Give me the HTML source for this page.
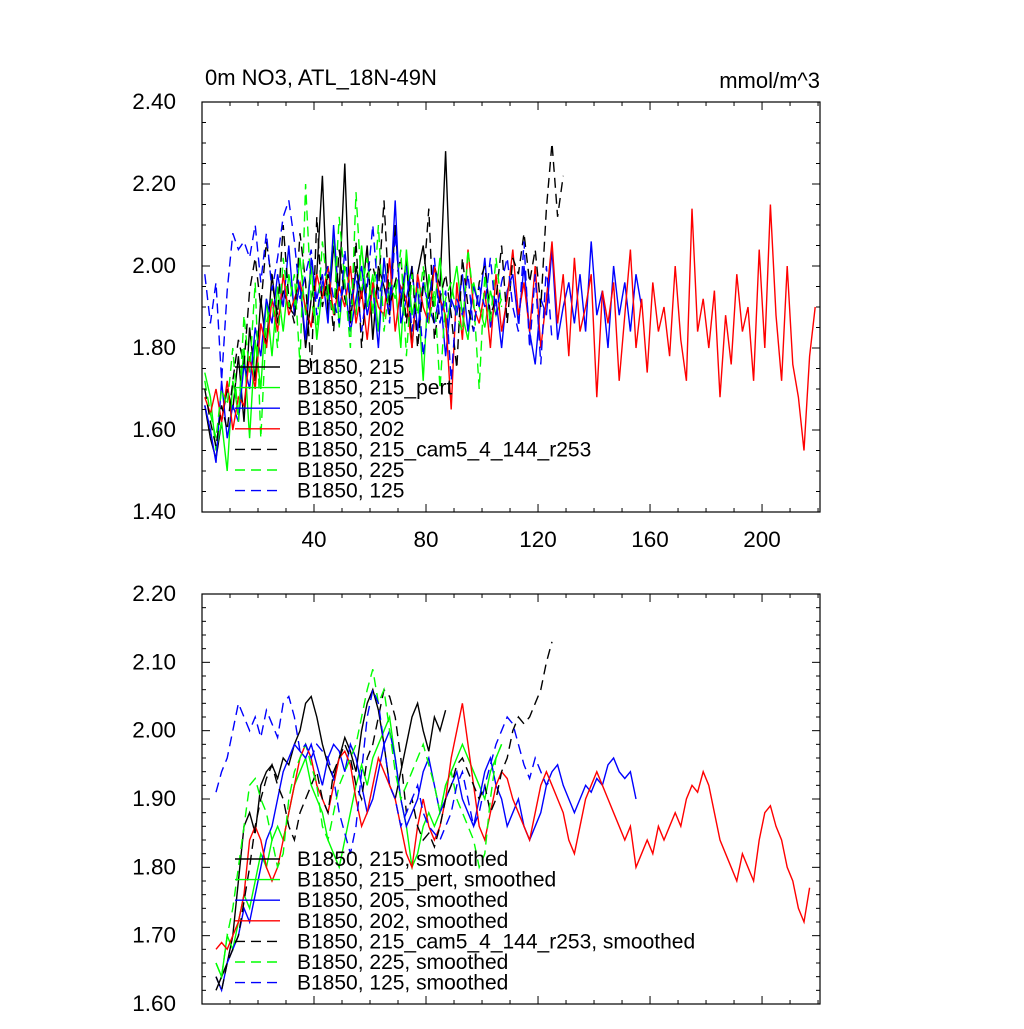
<!DOCTYPE html>
<html><head><meta charset="utf-8"><style>
body{margin:0;background:#fff}
svg text{font-family:"Liberation Sans",sans-serif;fill:#000}
</style></head><body>
<svg id="chart" width="1024" height="1024" xmlns="http://www.w3.org/2000/svg"></svg>
<script>
// ---------- data ----------
const topBlack=[1.66,1.58,1.53,1.62,1.70,1.65,1.78,1.62,1.85,1.72,1.92,1.80,1.98,1.86,1.94,1.90,1.88,1.96,1.80,1.92,1.98,2.22,1.88,2.05,1.94,2.25,1.86,2.00,1.92,2.05,1.82,2.00,1.95,1.88,2.10,1.90,2.02,1.80,1.98,2.05,1.92,2.00,1.95,2.28,1.90];
const topGreen=[1.74,1.68,1.55,1.62,1.50,1.72,1.64,1.80,1.58,1.82,1.70,1.92,1.78,1.95,1.84,1.98,1.90,2.02,1.88,2.00,1.82,1.95,1.92,2.08,1.85,2.00,1.94,1.88,2.05,1.90,1.98,1.84,2.02,1.92,1.96,1.80,2.04,1.88,1.95,1.72,1.98,1.90,2.02,1.85,1.92,2.00,1.88,1.82,1.96,1.90,1.85,1.94,1.88,1.92];
const topBlue=[1.66,1.60,1.52,1.72,1.58,1.66,1.62,1.76,1.70,1.85,1.78,1.92,1.86,1.98,1.90,2.05,1.88,1.96,1.82,2.02,1.92,1.98,1.86,2.10,1.90,1.96,1.84,1.92,2.00,1.88,1.95,1.80,2.02,1.90,2.16,1.86,1.92,2.00,1.84,1.96,1.90,1.86,1.94,1.78,1.92,1.88,1.98,1.84,1.95,1.90,2.02,1.85,1.92,1.80,1.94,1.98,1.86,2.00,1.84,1.76,1.92,1.88,2.04,1.82,1.90,1.96,1.86,1.98,1.84,2.06,1.88,1.94,1.80,2.00,1.88,1.96,1.84,1.98,1.90];
const topRed=[1.68,1.64,1.70,1.62,1.72,1.60,1.68,1.66,1.78,1.70,1.86,1.80,1.92,1.84,1.98,1.88,1.92,1.96,1.90,1.85,1.98,1.92,2.00,1.88,1.95,1.90,2.00,1.86,1.94,1.82,1.96,1.90,1.88,2.02,1.84,1.95,1.92,1.80,1.98,1.90,1.86,2.00,1.92,1.88,1.65,1.96,1.82,2.04,1.90,1.86,1.94,1.80,1.98,1.84,1.92,2.04,1.88,1.96,1.84,2.00,1.80,1.92,2.06,1.86,1.98,1.78,2.02,1.84,1.90,1.98,1.68,1.94,1.86,1.96,1.72,1.88,2.04,1.80,1.92,1.74,1.96,1.84,1.90,1.78,2.00,1.82,1.72,2.14,1.84,1.92,1.80,1.94,1.68,1.88,1.76,1.98,1.84,1.90,1.72,2.04,1.80,2.15,1.88,1.72,2.00,1.76,1.68,1.55,1.78,1.90];
const topBlackDash=[1.70,1.62,1.56,1.66,1.60,1.72,1.82,1.76,1.94,2.02,1.90,2.06,1.96,1.88,2.10,1.92,1.86,2.08,1.96,1.74,2.12,1.90,1.98,1.84,2.04,1.92,1.88,2.06,1.80,1.98,2.00,1.94,2.16,1.90,1.96,2.02,1.86,2.00,1.80,1.95,2.14,1.82,1.92,1.98,1.88,1.75,2.02,1.90,1.84,1.96,2.00,1.88,1.92,2.05,1.86,2.02,1.98,2.08,1.96,2.04,1.90,2.14,2.30,2.12,2.22];
const topGreenDash=[1.72,1.64,1.58,1.70,1.66,1.80,1.62,1.88,1.74,1.96,1.58,1.86,1.92,1.80,2.02,1.90,1.98,1.76,2.20,1.92,1.84,2.06,1.94,1.88,2.12,1.96,1.80,2.18,1.94,2.02,1.88,2.10,1.84,1.96,1.92,2.04,1.78,1.98,1.88,2.00,1.86,1.94,1.70,1.92,1.96,1.88,1.84,2.04,1.92,1.70,1.98,1.86,2.02,1.90];
const topBlueDash=[1.98,1.86,1.96,1.72,1.94,2.08,2.04,2.06,2.02,2.10,1.96,2.08,1.94,2.02,2.12,2.16,2.06,1.92,1.98,2.04,1.88,1.96,2.00,1.92,1.86,2.04,1.90,1.98,1.84,1.95,2.10,1.92,1.98,1.86,2.08,1.92,2.00,1.84,1.96,1.78,1.90,2.02,1.86,1.94,1.72,1.92,1.88,1.98,1.84,1.95,1.90,2.02,1.88,1.96,2.02,1.90,1.84,2.06,1.80,1.98,1.76,2.00,1.82];
const botBlack=[1.62,1.64,1.66,1.70,1.78,1.86,1.88,1.85,1.92,1.94,1.95,1.93,1.96,1.95,1.98,2.00,2.04,2.05,2.02,1.98,1.95,1.93,1.96,1.99,1.97,1.94,2.00,2.04,2.06,2.03,1.98,1.92,1.90,1.94,1.98,2.02,2.04,2.00,1.97,2.02,2.00,2.03];
const botGreen=[1.66,1.64,1.70,1.68,1.72,1.76,1.74,1.78,1.82,1.80,1.84,1.86,1.84,1.88,1.92,1.94,1.96,1.92,1.90,1.88,1.84,1.82,1.80,1.84,1.88,1.92,1.95,1.92,1.96,1.98,2.00,2.02,1.96,1.90,1.86,1.80,1.82,1.86,1.88,1.86,1.88,1.92,1.94,1.96,1.98,1.96,1.94,1.92,1.90,1.94,1.96,1.98];
const botBlue=[1.64,1.62,1.66,1.68,1.70,1.74,1.72,1.76,1.80,1.84,1.86,1.90,1.94,1.96,1.98,1.97,1.96,1.98,1.95,1.92,1.96,1.98,1.97,1.94,1.98,1.96,1.92,1.88,1.90,1.94,1.98,2.00,1.96,1.90,1.86,1.88,1.90,1.94,1.96,1.92,1.88,1.90,1.92,1.94,1.90,1.88,1.86,1.90,1.94,1.96,1.92,1.90,1.86,1.88,1.90,1.86,1.84,1.86,1.88,1.92,1.94,1.95,1.92,1.90,1.88,1.90,1.92,1.91,1.93,1.92,1.95,1.96,1.94,1.93,1.94,1.90];
const botRed=[1.68,1.69,1.68,1.70,1.72,1.76,1.84,1.86,1.84,1.80,1.78,1.80,1.84,1.88,1.92,1.96,1.98,1.96,1.92,1.90,1.88,1.92,1.96,1.97,1.95,1.90,1.86,1.88,1.92,1.96,1.94,1.92,1.90,1.86,1.82,1.80,1.86,1.90,1.86,1.84,1.86,1.90,1.96,2.00,2.04,1.98,1.92,1.86,1.84,1.88,1.92,1.94,1.93,1.90,1.88,1.86,1.84,1.88,1.92,1.94,1.92,1.90,1.88,1.84,1.82,1.86,1.90,1.92,1.94,1.92,1.90,1.88,1.86,1.84,1.86,1.80,1.82,1.84,1.82,1.86,1.84,1.86,1.88,1.86,1.90,1.92,1.91,1.94,1.92,1.88,1.84,1.82,1.80,1.78,1.82,1.80,1.78,1.84,1.88,1.89,1.86,1.84,1.80,1.78,1.74,1.72,1.77];
const botBlackDash=[1.64,1.62,1.66,1.68,1.70,1.75,1.80,1.86,1.90,1.93,1.95,1.92,1.90,1.86,1.84,1.88,1.90,1.92,1.94,1.90,1.88,1.94,1.96,1.98,1.96,1.92,1.90,1.96,1.98,2.02,2.06,2.05,2.02,1.96,1.88,1.90,1.86,1.84,1.85,1.83,1.86,1.90,1.92,1.95,1.96,1.94,1.92,1.90,1.92,1.88,1.90,1.94,1.96,2.00,2.02,2.01,2.02,2.04,2.06,2.10,2.13];
const botGreenDash=[1.66,1.64,1.70,1.74,1.80,1.86,1.92,1.93,1.90,1.88,1.84,1.80,1.82,1.90,1.94,1.96,1.98,1.95,1.92,1.86,1.84,1.88,1.92,1.94,1.96,1.98,2.02,2.06,2.09,2.04,2.06,2.00,1.94,1.90,1.92,1.94,1.96,1.98,1.95,1.92,1.88,1.92,1.94,1.90,1.88,1.86,1.84,1.80,1.82,1.90,1.96,1.98];
const botBlueDash=[1.91,1.94,1.96,2.00,2.04,2.02,2.00,2.02,1.99,2.03,2.01,1.99,2.04,2.05,2.02,1.97,1.98,1.96,1.98,1.97,1.96,1.93,1.88,1.85,1.82,1.86,1.94,2.02,2.06,2.04,1.98,1.92,1.90,1.86,1.88,1.90,1.92,1.88,1.86,1.85,1.84,1.86,1.88,1.92,1.94,1.90,1.86,1.88,1.92,1.95,1.98,2.00,2.02,2.01,1.98,1.95,1.93,1.96,1.94,1.92,1.93];
const topYTicks=["1.40","1.60","1.80","2.00","2.20","2.40"];
const botYTicks=["1.60","1.70","1.80","1.90","2.00","2.10","2.20"];
const xTickLabels=["40","80","120","160","200"];
const topLegend=["B1850, 215","B1850, 215_pert","B1850, 205","B1850, 202","B1850, 215_cam5_4_144_r253","B1850, 225","B1850, 125"];
const botLegend=["B1850, 215, smoothed","B1850, 215_pert, smoothed","B1850, 205, smoothed","B1850, 202, smoothed","B1850, 215_cam5_4_144_r253, smoothed","B1850, 225, smoothed","B1850, 125, smoothed"];

// ---------- drawing ----------
const NS="http://www.w3.org/2000/svg";
const svg=document.getElementById('chart');
function el(t,a,p){const e=document.createElementNS(NS,t);for(const k in a)e.setAttribute(k,a[k]);(p||svg).appendChild(e);return e;}
const X0=202,X1=820,XMIN=0,XMAX=220.7;
const xs=v=>X0+(v-XMIN)/(XMAX-XMIN)*(X1-X0);
const styles=[["#000",""],["#0f0",""],["#00f",""],["#f00",""],["#000","10,6"],["#0f0","10,6"],["#00f","10,6"]];

function panel(name,Y0,Y1,ymin,ymax,yTicks,yMinor,series,starts,step,legend,legY,showX){
  const g=el('g',{});
  
  
  const ys=v=>Y1-(v-ymin)/(ymax-ymin)*(Y1-Y0);
  series.forEach((arr,i)=>{
    const pts=arr.map((v,j)=>xs(starts[i]+j*step).toFixed(1)+','+ys(v).toFixed(1)).join(' ');
    const p=el('polyline',{points:pts,fill:'none',stroke:styles[i][0],'stroke-width':1.4,'stroke-dasharray':styles[i][1]},g);
    
    
  });
  const f=el('rect',{x:X0,y:Y0,width:X1-X0,height:Y1-Y0,fill:'none',stroke:'#000','stroke-width':1.2},g);
  
  
  for(let v=ymin;v<=ymax+1e-9;v+=yMinor){
    const y=ys(v);const major=Math.abs(Math.round(v*100)%(Math.round((yTicks[1]-yTicks[0])*100)))<1;
    const L=major?8:4;
    el('line',{x1:X0,x2:X0+L,y1:y,y2:y,stroke:'#000'},g);
    el('line',{x1:X1,x2:X1-L,y1:y,y2:y,stroke:'#000'},g);
  }
  yTicks.forEach(t=>{
    const tx=el('text',{x:176,y:ys(+t)+7,'text-anchor':'end','font-size':22.5},g);
    tx.textContent=t;
    
    
  });
  for(let v=10;v<=220;v+=10){
    const x=xs(v);const L=v%40===0?8:4;
    el('line',{x1:x,x2:x,y1:Y1,y2:Y1-L,stroke:'#000'},g);
    el('line',{x1:x,x2:x,y1:Y0,y2:Y0+L,stroke:'#000'},g);
  }
  if(showX) xTickLabels.forEach(t=>{
    const tx=el('text',{x:xs(+t),y:Y1+35,'text-anchor':'middle','font-size':22.5},g);
    tx.textContent=t;
    
    
  });
  legend.forEach((t,i)=>{
    const y=legY+i*20.6;
    const l=el('line',{x1:235,x2:280,y1:y,y2:y,stroke:styles[i][0],'stroke-width':1.4,'stroke-dasharray':styles[i][1]},g);
    
    
    const tx=el('text',{x:297,y:y+7,'font-size':21},g);
    tx.textContent=t;
    
    
  });
}
panel('top-panel',102,512,1.4,2.4,topYTicks,0.05,
  [topBlack,topGreen,topBlue,topRed,topBlackDash,topGreenDash,topBlueDash],[1,1,1,1,1,1,1],2,topLegend,367,true);
panel('bottom-panel',594,1004,1.6,2.2,botYTicks,0.02,
  [botBlack,botGreen,botBlue,botRed,botBlackDash,botGreenDash,botBlueDash],[5,5,5,5,5,5,5],2,botLegend,859,false);
const t1=el('text',{x:205,y:85,'font-size':22});
t1.textContent='0m NO3, ATL_18N-49N';


const t2=el('text',{x:820,y:88,'font-size':22,'text-anchor':'end'});
t2.textContent='mmol/m^3';


</script>
</body></html>
